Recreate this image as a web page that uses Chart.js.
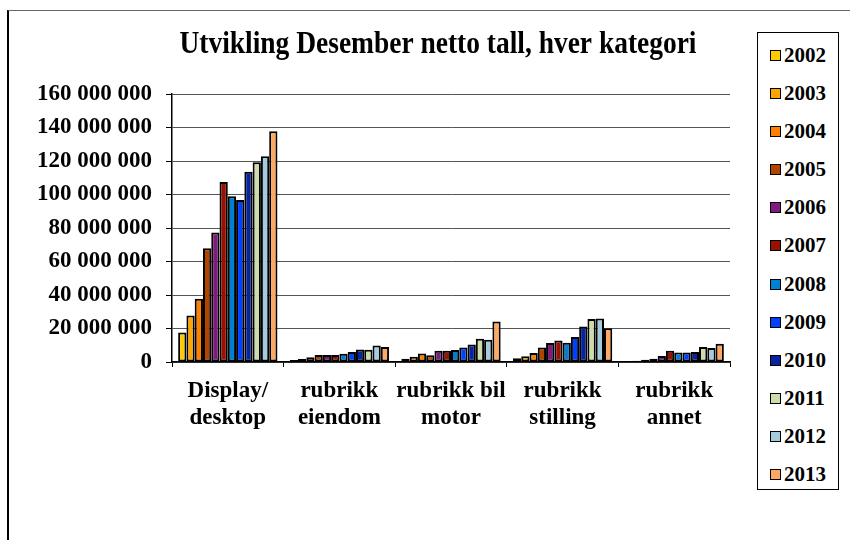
<!DOCTYPE html>
<html>
<head>
<meta charset="utf-8">
<script src="https://cdn.jsdelivr.net/npm/chart.js@4.4.0/dist/chart.umd.min.js"></script>
<style>
	body { margin: 0; background: #fff; }
	#wrap { position: relative; width: 850px; height: 540px; overflow: hidden; }
	#frame { position: absolute; left: 7px; top: 10px; width: 860px; height: 540px; border-top: 1px solid #666; border-left: 2px solid #000; }
	#barChart { position: absolute; left: 0; top: 0; }
	#legend { position: absolute; left: 757px; top: 32px; width: 82px; height: 458px; border: 1px solid #000; background: #fff;
		font: bold 21px "Liberation Serif", "Times New Roman", serif; box-sizing: border-box; padding-top: 3px; }
	#legend div { height: 38.1px; line-height: 38px; padding-left: 12px; white-space: nowrap; }
	#legend span { display: inline-block; width: 9px; height: 9px; border: 1px solid #000; margin-right: 3px; vertical-align: 1px; }
</style>
</head>
<body>
<div id="wrap">
	<div id="frame"></div>
	<canvas id="barChart" width="850" height="540"></canvas>
	<div id="legend"></div>
</div>
<script>
let titleText = 'Utvikling Desember netto tall, hver kategori';
let categories = [['Display/', 'desktop'], ['rubrikk', 'eiendom'], ['rubrikk bil', 'motor'], ['rubrikk', 'stilling'], ['rubrikk', 'annet']];
let years = ['2002', '2003', '2004', '2005', '2006', '2007', '2008', '2009', '2010', '2011', '2012', '2013'];
let colors = ['#FFCC00', '#FFA500', '#FF7F00', '#B04500', '#7F1A7F', '#991100', '#0080D0', '#0040FF', '#0822A0', '#CCDDAA', '#A4CCDC', '#FFA860'];

// values per year: [display, eiendom, bil motor, stilling, annet]
let v2002 = [17600000, 1200000, 2000000, 2200000, 200000];
let v2003 = [27800000, 1800000, 3200000, 3400000, 800000];
let v2004 = [37700000, 2800000, 5100000, 5300000, 1400000];
let v2005 = [67900000, 4200000, 4000000, 8700000, 2000000];
let v2006 = [77300000, 4200000, 6700000, 11300000, 3600000];
let v2007 = [107500000, 4200000, 6700000, 12900000, 6700000];
let v2008 = [99000000, 5000000, 7100000, 11500000, 5700000];
let v2009 = [96700000, 5900000, 8700000, 15000000, 5700000];
let v2010 = [113600000, 7500000, 10500000, 21200000, 5900000];
let v2011 = [119300000, 7300000, 13900000, 25700000, 8900000];
let v2012 = [122900000, 9900000, 13300000, 25900000, 8300000];
let v2013 = [137700000, 8900000, 24200000, 20200000, 10900000];
let seriesValues = [v2002, v2003, v2004, v2005, v2006, v2007, v2008, v2009, v2010, v2011, v2012, v2013];

let yMax = 160000000;
let yStep = 20000000;

let serif = '"Liberation Serif", "Times New Roman", serif';

let datasets = years.map(function (y, i) {
	return {
		label: y,
		data: seriesValues[i],
		backgroundColor: colors[i],
		borderColor: '#000',
		borderWidth: 2,
		borderSkipped: false,
		categoryPercentage: 0.89,
		barPercentage: 1.0
	};
});

// legend built from the same arrays
let legendEl = document.getElementById('legend');
years.forEach(function (y, i) {
	let row = document.createElement('div');
	let sw = document.createElement('span');
	sw.style.background = colors[i];
	row.appendChild(sw);
	row.appendChild(document.createTextNode(y));
	legendEl.appendChild(row);
});

let titlePlugin = {
	id: 'titlePlugin',
	afterDraw: function (chart) {
		let ctx = chart.ctx;
		ctx.save();
		ctx.font = 'bold 32px ' + serif;
		let w = ctx.measureText(titleText).width;
		let sx = 517 / w;
		ctx.translate(438, 45);
		ctx.scale(sx, 1);
		ctx.fillStyle = '#000';
		ctx.textAlign = 'center';
		ctx.textBaseline = 'middle';
		ctx.fillText(titleText, 0, 0);
		ctx.restore();
	}
};

new Chart('barChart', {
	type: 'bar',
	data: { labels: categories, datasets: datasets },
	plugins: [titlePlugin],
	options: {
		responsive: false,
		animation: false,
		layout: { padding: { left: 8, right: 120, top: 94, bottom: 0 } },
		plugins: {
			legend: { display: false },
			title: { display: false },
			tooltip: { enabled: false }
		},
		scales: {
			x: {
				afterFit: function (scale) { scale.height = 178; },
				grid: { drawOnChartArea: false, drawTicks: true, tickLength: 5, color: '#000' },
				border: { color: '#000', width: 1.5 },
				ticks: {
					color: '#000',
					padding: 10,
					maxRotation: 0,
					autoSkip: false,
					font: { family: serif, size: 23, weight: 'bold', lineHeight: 1.2 }
				}
			},
			y: {
				min: 0,
				max: yMax,
				afterFit: function (scale) { scale.width = 164; },
				grid: { color: '#555', lineWidth: 1, tickLength: 6, tickColor: '#000' },
				border: { color: '#000', width: 1.5 },
				ticks: {
					stepSize: yStep,
					color: '#000',
					padding: 14,
					font: { family: serif, size: 23, weight: 'bold' },
					callback: function (v) {
						return String(v).replace(/\B(?=(\d{3})+(?!\d))/g, ' ');
					}
				}
			}
		}
	}
});
</script>
</body>
</html>
